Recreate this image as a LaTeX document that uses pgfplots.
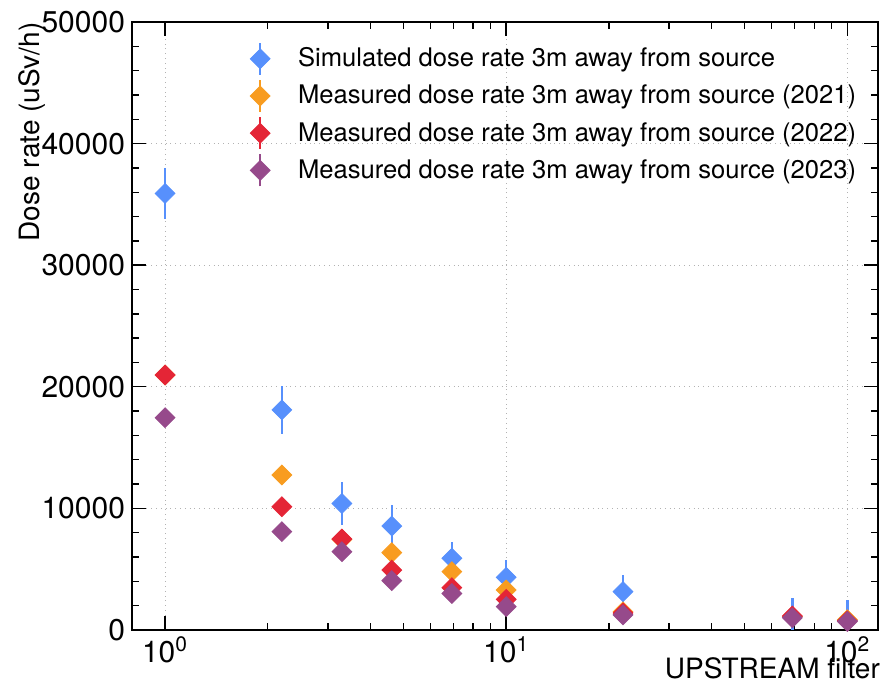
\documentclass[border=0pt]{standalone}
\usepackage{pgfplots}
\pgfplotsset{compat=1.18}
\usepackage{fontspec}
\setmainfont{TeX Gyre Heros}
\definecolor{pblue}{HTML}{5790FC}
\definecolor{porange}{HTML}{F89C20}
\definecolor{pred}{HTML}{E42536}
\definecolor{ppurple}{HTML}{964A8B}
\begin{document}
\begin{tikzpicture}
\path[use as bounding box] (-66pt,-29.5pt) rectangle (376.5pt,315pt);
\begin{axis}[
  at={(0,0)}, anchor=south west,
  scale only axis, width=373pt, height=304pt,
  xmode=log, xmin=0.8, xmax=123, ymin=0, ymax=50000,
  xtick={1,10,100},
  xticklabels={10\textsuperscript{0},10\textsuperscript{1},10\textsuperscript{2}},
  ytick={0,10000,20000,30000,40000,50000},
  minor y tick num=4,
  tick align=inside, xtick pos=both, ytick pos=both,
  major tick length=7pt, minor tick length=3.5pt,
  every tick/.style={black, line width=0.7pt},
  axis line style={line width=1.2pt},
  grid=major, major grid style={dotted, gray!60, line width=0.5pt},
  tick label style={font=\fontsize{15}{15}\selectfont},
  /pgf/number format/assume math mode=true,
  /pgf/number format/1000 sep={},
  scaled y ticks=false,
  ylabel={Dose rate (uSv/h)},
  ylabel style={at={(axis description cs:-0.153,1)}, anchor=north east, inner sep=0pt, font=\fontsize{14}{14}\selectfont},
  xlabel={UPSTREAM filter},
  xlabel style={at={(axis description cs:1.003,-0.079)}, anchor=base east, inner sep=0pt, font=\fontsize{14}{14}\selectfont},
  legend cell align=left,
  legend style={at={(axis description cs:0.15,0.975)}, anchor=north west, draw=none, fill=none,
    font=\fontsize{12.8}{12.8}\selectfont, row sep=1.4pt,
    /tikz/every odd column/.append style={column sep=12pt}},
  legend image code/.code={
    \draw[line width=1.2pt] (5pt,-8pt) -- (5pt,8pt);
    \path[mark repeat=2,mark phase=2] plot coordinates {(0pt,0pt)(5pt,0pt)(10pt,0pt)};
  },
  every axis plot/.append style={only marks, mark=square*, mark size=3.5pt,
    error bars/y dir=both, error bars/y explicit,
    error bars/error bar style={line width=1.2pt}, error bars/error mark=none},
]
\addplot[color=pblue, mark options={fill=pblue, draw=none, rotate=45}] coordinates {
  (1,35900) +- (0,2100)
  (2.2,18100) +- (0,1950)
  (3.3,10400) +- (0,1800)
  (4.62,8550) +- (0,1750)
  (6.93,5900) +- (0,1300)
  (10,4330) +- (0,1400)
  (22,3150) +- (0,1400)
  (69,1100) +- (0,1550)
  (100,800) +- (0,1650)
};
\addlegendentry{Simulated dose rate 3m away from source}
\addplot[color=porange, mark options={fill=porange, draw=none, rotate=45}] coordinates {
  (1,20970) +- (0,0)
  (2.2,12750) +- (0,0)
  (3.3,7450) +- (0,0)
  (4.62,6360) +- (0,0)
  (6.93,4800) +- (0,0)
  (10,3290) +- (0,0)
  (22,1500) +- (0,0)
  (69,1100) +- (0,0)
  (100,850) +- (0,0)
};
\addlegendentry{Measured dose rate 3m away from source (2021)}
\addplot[color=pred, mark options={fill=pred, draw=none, rotate=45}] coordinates {
  (1,20970) +- (0,0)
  (2.2,10140) +- (0,0)
  (3.3,7480) +- (0,0)
  (4.62,4930) +- (0,0)
  (6.93,3480) +- (0,0)
  (10,2520) +- (0,0)
  (22,1400) +- (0,0)
  (69,1150) +- (0,0)
  (100,750) +- (0,0)
};
\addlegendentry{Measured dose rate 3m away from source (2022)}
\addplot[color=ppurple, mark options={fill=ppurple, draw=none, rotate=45}] coordinates {
  (1,17460) +- (0,0)
  (2.2,8090) +- (0,0)
  (3.3,6440) +- (0,0)
  (4.62,4060) +- (0,0)
  (6.93,3000) +- (0,0)
  (10,1920) +- (0,0)
  (22,1250) +- (0,0)
  (69,1000) +- (0,0)
  (100,700) +- (0,0)
};
\addlegendentry{Measured dose rate 3m away from source (2023)}
\end{axis}
\end{tikzpicture}
\end{document}
